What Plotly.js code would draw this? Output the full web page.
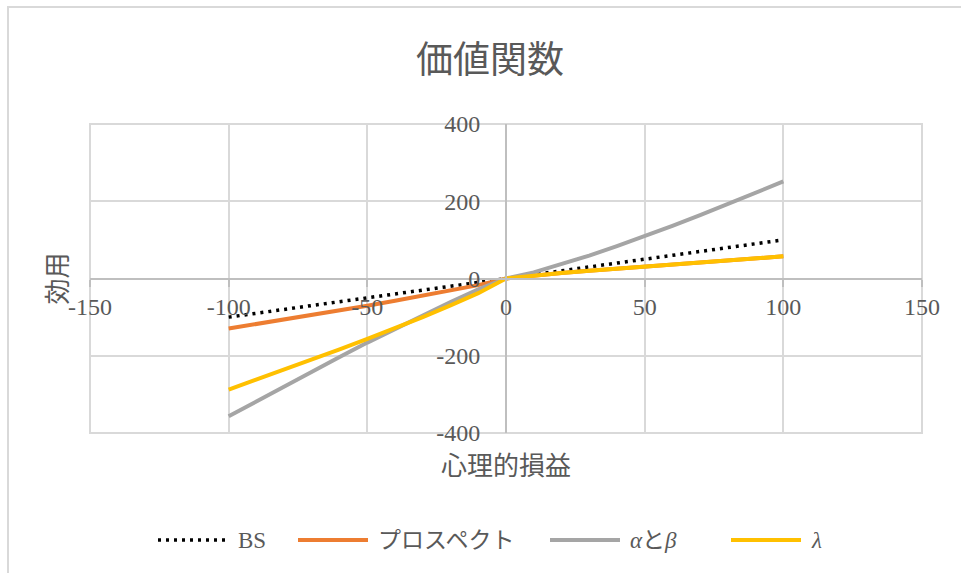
<!DOCTYPE html>
<html>
<head>
<meta charset="utf-8">
<script src="https://cdn.plot.ly/plotly-3.0.1.min.js"></script>
<style>
  html, body { margin: 0; padding: 0; background: #ffffff; }
  #chart { width: 961px; height: 573px; }
</style>
</head>
<body>
<div id="chart"></div>
<script>
// 心理的損益 (x) と 効用 (y)
const gainLoss = [-100, -90, -80, -70, -60, -50, -40, -30, -20, -10, 0, 10, 20, 30, 40, 50, 60, 70, 80, 90, 100];

const bsValues = [-100, -90, -80, -70, -60, -50, -40, -30, -20, -10, 0, 10, 20, 30, 40, 50, 60, 70, 80, 90, 100];
const prospectValues = [-129.5, -118, -106.4, -94.6, -82.6, -70.4, -57.8, -44.9, -31.4, -17.1, 0, 7.6, 14, 20, 25.7, 31.3, 36.7, 42, 47.3, 52.5, 57.5];
const alphaBetaValues = [-356.6, -317.7, -279, -240.9, -203.3, -165.9, -130.5, -95.1, -60.7, -28.3, 0, 15.8, 36.4, 59.3, 83.7, 109.3, 136.1, 163.8, 192.4, 221.7, 251.2];
const lambdaValues = [-287.7, -262.2, -236.5, -210.3, -183.5, -156.4, -128.5, -99.8, -69.8, -38, 0, 7.6, 14, 20, 25.7, 31.3, 36.7, 42, 47.3, 52.5, 57.5];

const seriesNames = ['BS', 'プロスペクト', '<i>α</i>と<i>β</i>', '<i>λ</i>'];
const xTicks = [-150, -100, -50, 0, 50, 100, 150];
const yTicks = [-400, -200, 0, 200, 400];

const FONT = '"Liberation Serif", "Noto Sans CJK JP", serif';
const TEXT = '#595959';
const GRID = '#d9d9d9';
const AXIS = '#bfbfbf';

const lineStyles = [
  { color: '#000000', width: 3.5, dash: '3px,5px' },
  { color: '#ED7D31', width: 4 },
  { color: '#A5A5A5', width: 4 },
  { color: '#FFC000', width: 4 }
];
const seriesValues = [bsValues, prospectValues, alphaBetaValues, lambdaValues];

const traces = seriesValues.map((vals, i) => ({
  x: gainLoss, y: vals, name: seriesNames[i], mode: 'lines',
  line: lineStyles[i], showlegend: false
}));

// plot-area geometry in pixels (used for the frame and the legend row)
const W = 961, H = 573;
const PL = 90, PR = 922, PT = 124, PB = 433;
const toPaperX = px => (px - PL) / (PR - PL);
const toPaperY = py => (PB - py) / (PB - PT);

// legend row below the chart: a line sample followed by its label
const legendRowY = 540;
const legendStarts = [158, 298, 550, 731];
const legendLineLen = 70;
const legendTextGap = 8;

const legendShapes = legendStarts.map((x0, i) => ({
  type: 'line', xref: 'paper', yref: 'paper',
  x0: toPaperX(x0), x1: toPaperX(x0 + legendLineLen),
  y0: toPaperY(legendRowY), y1: toPaperY(legendRowY),
  line: { color: lineStyles[i].color, width: lineStyles[i].width, dash: lineStyles[i].dash || 'solid' }
}));
const legendLabels = legendStarts.map((x0, i) => ({
  xref: 'paper', yref: 'paper',
  x: toPaperX(x0 + legendLineLen + legendTextGap), xanchor: 'left',
  y: toPaperY(legendRowY), yanchor: 'middle',
  text: seriesNames[i], showarrow: false,
  font: { family: FONT, size: 23, color: TEXT }
}));

const layout = {
  width: W,
  height: H,
  margin: { l: PL, r: W - PR, t: PT, b: H - PB },
  paper_bgcolor: '#ffffff',
  plot_bgcolor: '#ffffff',
  font: { family: FONT, color: TEXT, size: 24 },
  showlegend: false,
  title: {
    text: '価値関数',
    font: { family: FONT, size: 37, color: TEXT },
    xref: 'container', yref: 'container',
    x: 490 / W, xanchor: 'center',
    y: 1 - 60 / H, yanchor: 'middle'
  },
  xaxis: {
    range: [-150, 150],
    tickvals: xTicks,
    ticktext: xTicks.map(String),
    showgrid: true, gridcolor: GRID, gridwidth: 2,
    zeroline: false,
    showline: true, linecolor: AXIS, linewidth: 2,
    ticks: 'outside', ticklen: 7, tickcolor: AXIS, tickwidth: 2,
    anchor: 'free', position: 0.5,
    tickfont: { family: FONT, size: 24, color: TEXT },
    title: { text: '心理的損益', font: { family: FONT, size: 26, color: TEXT }, standoff: 137 }
  },
  yaxis: {
    range: [-400, 400],
    tickvals: yTicks,
    ticktext: yTicks.map(String),
    showgrid: true, gridcolor: GRID, gridwidth: 2,
    zeroline: false,
    showline: true, linecolor: AXIS, linewidth: 2,
    ticks: '',
    anchor: 'free', position: 0.5,
    ticklabelstandoff: 20,
    tickfont: { family: FONT, size: 24, color: TEXT },
    title: { text: '効用', font: { family: FONT, size: 26, color: TEXT }, standoff: 360 }
  },
  shapes: [
    // chart frame
    { type: 'rect', xref: 'paper', yref: 'paper',
      x0: toPaperX(8), x1: toPaperX(990),
      y0: toPaperY(600), y1: toPaperY(7),
      line: { color: GRID, width: 2 }, fillcolor: 'rgba(0,0,0,0)', layer: 'below' },
    // plot-area outline (outer gridlines)
    { type: 'rect', xref: 'paper', yref: 'paper',
      x0: 0, x1: 1, y0: 0, y1: 1,
      line: { color: GRID, width: 2 }, fillcolor: 'rgba(0,0,0,0)', layer: 'below' }
  ].concat(legendShapes),
  annotations: legendLabels
};

Plotly.newPlot('chart', traces, layout, { staticPlot: true, displayModeBar: false });
</script>
</body>
</html>
